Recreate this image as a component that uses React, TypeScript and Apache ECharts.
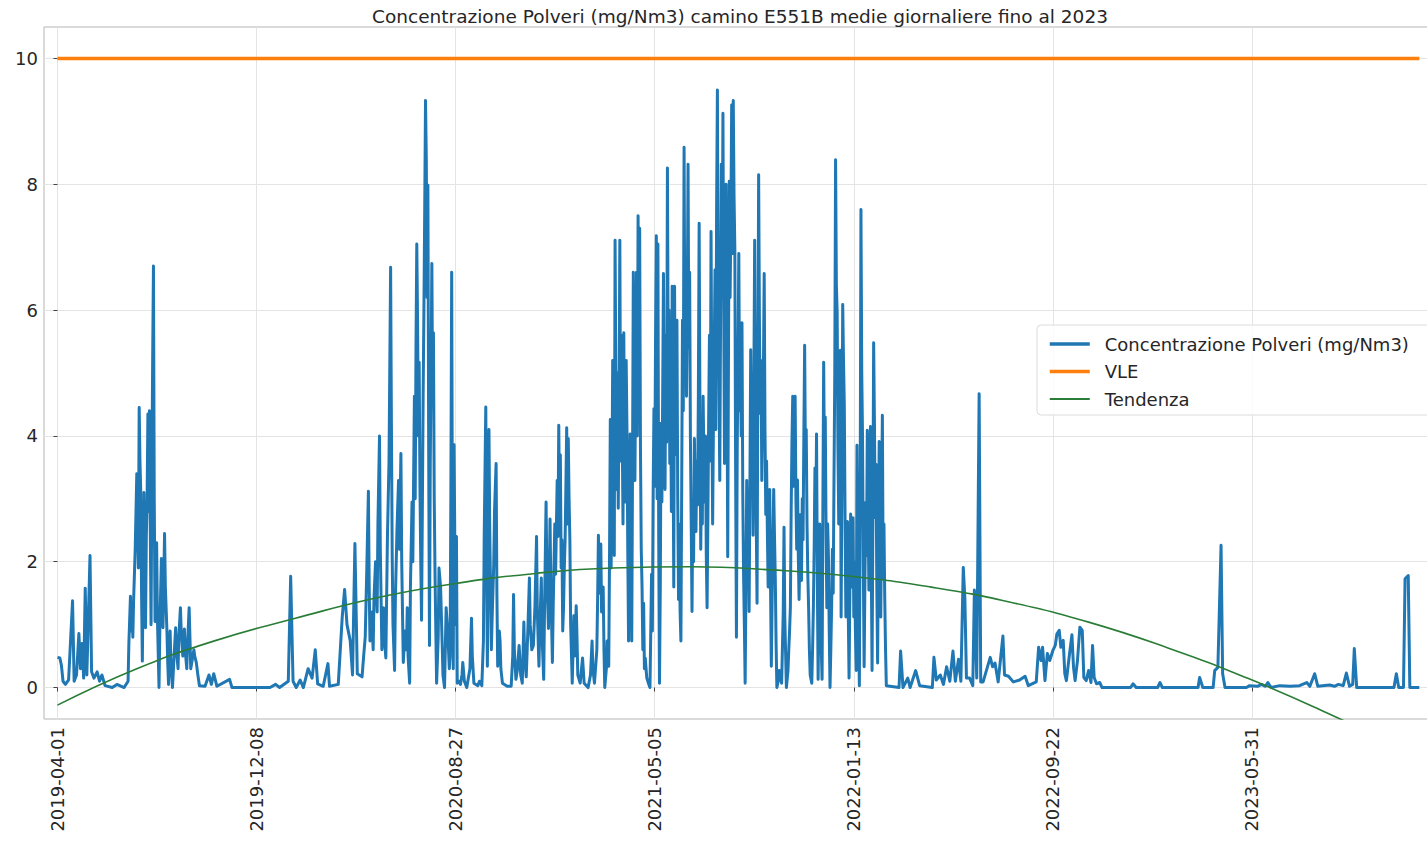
import React, { useEffect, useRef } from "react";
import * as echarts from "echarts";

// x values are row positions of the daily record (first row = 2019-04-01)
const tickRows: number[] = [0, 251, 502, 753, 1004, 1255, 1506];
const tickDates: string[] = ["2019-04-01", "2019-12-08", "2020-08-27", "2021-05-05", "2022-01-13", "2022-09-22", "2023-05-31"];
const yTicks: number[] = [0, 2, 4, 6, 8, 10];
const titleText = "Concentrazione Polveri (mg/Nm3) camino E551B medie giornaliere fino al 2023";
const seriesNames = ["Concentrazione Polveri (mg/Nm3)", "VLE", "Tendenza"];

const vleLimit: [number, number][] = [[0, 10], [1717, 10]];

const trendLine: [number, number][] = [
  [0, -0.28], [100, 0.3], [200, 0.75], [300, 1.1], [400, 1.42], [500, 1.65], [600, 1.81], [700, 1.9],
  [800, 1.92], [900, 1.87], [1000, 1.77], [1100, 1.6], [1200, 1.36], [1300, 1.04], [1400, 0.63],
  [1500, 0.15], [1600, -0.4], [1717, -1.1],
];

const dust2019: [number, number][] = [
  [0, 0.48], [3, 0.47], [5, 0.35], [7, 0.1], [10, 0.05], [14, 0.12], [19, 1.38], [21, 0.1], [24, 0.2],
  [27, 0.86], [29, 0.3], [31, 0.7], [33, 0.15], [35, 1.58], [37, 0.2], [41, 2.1], [43, 0.25], [46, 0.15],
  [50, 0.25], [53, 0.1], [56, 0.2], [60, 0.03], [69, 0], [75, 0.05], [84, 0], [89, 0.1], [90, 0.7],
  [92, 1.45], [93, 0.9], [94, 1.25], [95, 0.8], [96, 1.4], [98, 2.2], [100, 3.4], [101, 2.9], [102, 1.9],
  [103, 4.45], [104, 3.6], [105, 3.1], [106, 1.5], [107, 0.42], [108, 1.8], [109, 3.1], [110, 2.0],
  [111, 0.95], [112, 2.4], [113, 3.0], [114, 4.35], [115, 2.8], [116, 4.4], [117, 2.5], [118, 1.0],
  [119, 3.4], [120, 5.2], [121, 6.7], [122, 3.0], [123, 1.05], [124, 1.6], [125, 2.3], [126, 1.1],
  [128, 0], [129, 0.9], [131, 2.05], [132, 1.4], [133, 0.95], [134, 1.7], [135, 2.45], [136, 1.6],
  [138, 0.9], [139, 0.4], [140, 0.05], [141, 0.5], [142, 0.9], [143, 0.4], [145, 0], [147, 0.5],
  [149, 0.95], [150, 0.6], [152, 0.3], [153, 0.8], [155, 1.27], [156, 0.9], [158, 0.5], [159, 0.7],
  [160, 0.93], [161, 0.6], [163, 0.3], [164, 0.7], [166, 1.27], [167, 0.8], [168, 0.3], [170, 0.45],
  [172, 0.6], [173, 0.5], [175, 0.4], [177, 0.2], [179, 0.03], [186, 0.02], [191, 0.2], [194, 0.05],
  [197, 0.22], [201, 0.02], [217, 0.13], [220, 0], [231, 0], [268, 0],
];

const dust2020: [number, number][] = [
  [275, 0.05], [280, 0], [291, 0.1], [294, 1.77], [297, 0.1], [301, 0], [306, 0.12], [310, 0], [316, 0.3],
  [321, 0.15], [325, 0.6], [328, 0.06], [335, 0.02], [341, 0.38], [343, 0.02], [354, 0.05], [359, 1.12],
  [362, 1.56], [365, 1.0], [369, 0.75], [372, 0.2], [375, 2.29], [378, 0.22], [384, 0.17], [386, 0.5],
  [388, 0.8], [390, 1.9], [392, 3.12], [393, 1.6], [394, 0.74], [396, 1.2], [398, 0.6], [399, 1.4],
  [401, 2.0], [403, 1.2], [404, 2.6], [406, 4.0], [407, 2.2], [409, 0.6], [410, 0.9], [411, 1.27],
  [412, 0.8], [414, 0.47], [416, 2.4], [418, 3.6], [420, 6.68], [421, 4.2], [422, 2.08], [423, 1.0],
  [425, 0.27], [426, 1.4], [428, 2.5], [430, 3.29], [431, 2.2], [433, 3.72], [434, 2.0], [436, 0.4],
  [438, 0.9], [440, 0.6], [441, 1.27], [442, 0.5], [444, 0.07], [445, 1.6], [447, 2.95], [448, 2.0],
  [450, 4.63], [451, 3.0], [452, 5.4], [453, 7.05], [454, 5.8], [455, 4.0], [456, 5.17], [457, 3.2],
  [458, 2.0], [459, 1.07], [460, 2.8], [461, 4.63], [462, 6.0], [463, 7.6], [464, 9.33], [465, 8.4],
  [466, 6.2], [467, 7.99], [468, 3.8], [469, 0.67], [470, 3.6], [471, 5.0], [472, 6.74], [473, 4.5],
  [474, 5.64], [475, 3.0], [476, 1.8], [477, 0.9], [478, 0.07], [480, 0.8], [481, 1.9], [483, 1.6],
  [485, 0.7], [486, 0.2], [488, 0], [490, 1.27], [492, 0.9], [494, 0.3], [495, 0.5], [496, 3.2],
  [497, 6.6], [498, 2.0], [499, 0.3], [500, 3.86], [501, 2.2], [502, 1.0], [503, 2.4], [504, 0.07],
  [506, 0.1], [508, 0.05], [510, 0.2], [511, 0.4], [513, 0.1], [516, 0], [520, 0.3], [522, 1.1],
  [523, 0.5], [525, 0.07], [530, 0.03], [532, 0.1], [535, 0.03], [537, 0.74], [538, 2.4], [540, 4.46],
  [541, 2.0], [542, 0.34], [543, 2.2], [544, 4.1], [545, 2.5], [547, 0.6], [548, 1.1], [550, 1.95],
  [551, 2.8], [553, 3.56], [554, 1.5], [555, 0.34], [557, 0.9], [558, 0.74], [559, 0.3], [561, 0.07],
  [567, 0.02], [572, 0.02], [574, 0.5], [575, 1.48], [576, 0.6], [578, 0.13], [580, 0.3], [582, 0.67],
  [584, 0.2], [586, 0.07], [588, 1.04], [589, 0.5], [591, 0.17], [593, 0.9], [595, 1.74], [596, 1.0],
  [598, 0.6], [600, 0.67], [602, 1.3], [604, 2.4], [605, 1.2], [607, 0.34], [608, 0.9], [610, 1.74],
  [611, 0.8], [613, 0.13], [614, 1.2], [616, 2.95], [617, 1.8], [619, 0.94], [620, 1.7], [621, 2.68],
  [622, 1.6], [624, 0.4], [625, 1.3], [627, 2.6], [628, 1.8], [630, 3.29], [631, 2.4], [632, 4.17],
  [633, 2.8], [634, 3.7], [635, 1.9], [636, 2.35], [637, 0.9], [638, 1.27], [639, 1.9], [640, 2.35],
  [641, 3.2], [642, 4.13], [643, 2.6], [644, 3.96], [645, 3.0], [646, 2.35], [647, 1.0], [649, 0.07],
  [650, 0.6], [651, 1.14], [652, 0.5], [654, 1.3], [655, 0.8], [656, 0.2], [659, 0.07], [662, 0.47],
  [664, 0.07], [669, 0], [672, 0.2], [674, 0.74], [675, 0.3], [677, 0.07], [680, 0.6], [681, 1.4],
  [682, 2.42], [683, 1.5], [685, 2.28], [686, 1.2], [688, 1.6], [689, 0.6], [690, 0], [692, 0.3],
  [693, 0.74], [695, 0.34], [696, 2.1],
];

const dust2021: [number, number][] = [
  [697, 4.26], [698, 1.9], [699, 3.15], [700, 5.2], [701, 4.23], [702, 2.1], [703, 7.11], [704, 4.8],
  [705, 3.15], [706, 5.0], [707, 2.85], [708, 4.5], [709, 7.11], [710, 3.6], [711, 5.6], [712, 4.09],
  [713, 2.6], [714, 5.64], [715, 3.4], [716, 2.95], [717, 5.2], [718, 4.09], [719, 2.2], [720, 0.74],
  [721, 2.8], [722, 4.03], [723, 2.4], [724, 0.74], [725, 3.5], [726, 6.6], [727, 4.6], [728, 3.29],
  [729, 5.1], [730, 6.6], [731, 4.0], [732, 7.5], [733, 5.0], [734, 7.3], [735, 3.8], [736, 2.2],
  [737, 1.6], [738, 0.6], [739, 1.34], [740, 0.3], [741, 0.47], [743, 0.15], [745, 0.07], [747, 0],
  [749, 1.8], [750, 0.9], [751, 3.1], [752, 4.43], [753, 3.2], [754, 5.5], [755, 7.18], [756, 3.0],
  [757, 7.05], [758, 2.4], [759, 0.07], [760, 1.6], [761, 4.2], [762, 2.95], [763, 4.6], [764, 6.58],
  [765, 4.0], [766, 3.15], [767, 5.6], [768, 3.9], [769, 8.26], [770, 5.1], [771, 6.0], [772, 3.56],
  [773, 4.8], [774, 2.8], [775, 6.38], [776, 4.2], [777, 1.6], [778, 6.38], [779, 3.7], [780, 4.6],
  [781, 5.84], [782, 3.0], [783, 1.4], [784, 2.6], [785, 1.2], [786, 0.74], [787, 3.2], [788, 5.84],
  [789, 4.4], [790, 8.59], [791, 5.5], [792, 6.4], [793, 4.63], [794, 6.0], [795, 8.32], [796, 5.4],
  [797, 6.6], [798, 3.96], [799, 2.6], [800, 1.21], [801, 2.9], [802, 2.0], [803, 3.96], [804, 3.1],
  [805, 2.48], [806, 3.6], [807, 2.9], [808, 4.63], [809, 7.38], [810, 4.4], [811, 2.2], [812, 3.4],
  [813, 2.6], [814, 4.63], [815, 3.6], [816, 2.95], [817, 4.0], [818, 2.1], [819, 1.27], [820, 2.7],
  [821, 4.3], [822, 5.6], [823, 3.6], [824, 7.25], [825, 4.5], [826, 2.6], [827, 4.2], [828, 5.3],
  [829, 6.64], [830, 4.1], [831, 7.6], [832, 9.5], [833, 6.2], [834, 5.0], [835, 3.29], [836, 5.9],
  [837, 8.32], [838, 6.5], [839, 9.13], [840, 6.0], [841, 3.56], [842, 6.3], [843, 8.0], [844, 5.6],
  [845, 2.08], [846, 5.4], [847, 8.05], [848, 6.2], [849, 7.4], [850, 9.26], [851, 6.9], [852, 9.33],
  [853, 7.8], [854, 6.98], [855, 3.4], [856, 0.8], [857, 3.8], [858, 5.2], [859, 6.9], [860, 4.4],
  [861, 5.3], [862, 4.0], [863, 5.8], [864, 3.09], [865, 1.8], [866, 1.0], [867, 0.07], [868, 1.6],
  [869, 3.29], [870, 2.2], [871, 3.0], [872, 1.21], [873, 3.2], [874, 5.37], [875, 3.8], [876, 4.4],
  [877, 2.42], [878, 4.9], [879, 7.11], [880, 4.1], [881, 2.6], [882, 1.34], [883, 4.9], [884, 8.15],
  [885, 5.8], [886, 4.36], [887, 5.2], [888, 3.29], [889, 4.6], [890, 5.0], [891, 6.58], [892, 4.1],
  [893, 2.75], [894, 3.6], [895, 2.48], [896, 1.6], [897, 2.4], [898, 3.15], [899, 1.6], [900, 0.34],
  [901, 1.4], [902, 2.3], [903, 3.15], [904, 2.4], [905, 1.74], [906, 0.7], [907, 0], [909, 0.12],
  [910, 0.27], [913, 0.07], [915, 1.2], [916, 2.55], [917, 1.1], [919, 0], [921, 0.27], [922, 0.6],
  [923, 0.9], [924, 1.27], [925, 2.8], [926, 3.9], [927, 4.63], [928, 3.2], [929, 3.9], [930, 4.63],
  [931, 3.0], [932, 2.2], [933, 3.3], [934, 2.1], [935, 1.4], [936, 2.2], [937, 2.75], [938, 1.7],
  [939, 3.0], [940, 2.35], [941, 4.0], [942, 5.44], [943, 3.6], [944, 4.1], [945, 2.6], [946, 1.8],
  [947, 1.27], [948, 0.6], [949, 0.2], [951, 0.07], [952, 0.6], [953, 1.27], [954, 2.2], [955, 3.49],
  [956, 2.6], [957, 4.03], [958, 1.7], [959, 0.13], [960, 1.4], [961, 2.6], [962, 1.5], [963, 0.6],
  [964, 0.13], [965, 2.9], [966, 5.17], [967, 3.4], [968, 4.3], [969, 2.5], [970, 1.27], [971, 2.6],
  [972, 2.08], [973, 0.9], [974, 0], [975, 0.6], [976, 1.27], [977, 2.2], [978, 1.5], [979, 3.29],
  [980, 5.0], [981, 8.39], [982, 6.4], [983, 5.97], [984, 3.8], [985, 2.6], [986, 3.4],
];

const dust2022: [number, number][] = [
  [987, 5.36], [988, 1.12], [989, 3.3], [990, 6.09], [991, 5.2], [992, 4.5], [993, 2.6], [994, 1.12],
  [995, 1.9], [996, 2.64], [997, 1.2], [998, 0.15], [999, 1.5], [1000, 2.76], [1001, 1.9], [1002, 1.6],
  [1003, 2.7], [1004, 1.12], [1005, 2.0], [1006, 0.9], [1007, 0.27], [1008, 3.85], [1009, 2.2],
  [1010, 1.1], [1011, 0.03], [1012, 3.0], [1013, 7.6], [1014, 5.0], [1015, 3.97], [1016, 1.9],
  [1017, 0.33], [1018, 1.7], [1019, 2.94], [1020, 2.1], [1021, 4.09], [1022, 2.9], [1023, 1.55],
  [1024, 3.0], [1025, 4.15], [1026, 2.0], [1027, 0.27], [1028, 2.6], [1029, 5.48], [1030, 4.2],
  [1031, 2.7], [1032, 3.55], [1033, 1.6], [1034, 0.39], [1035, 2.3], [1036, 3.91], [1037, 2.5],
  [1038, 1.12], [1039, 2.9], [1040, 4.33], [1041, 1.73], [1042, 2.6], [1043, 1.42], [1044, 0.6],
  [1045, 0.03], [1061, 0], [1063, 0.58], [1066, 0], [1072, 0.15], [1075, 0], [1082, 0.27], [1087, 0.03],
  [1103, 0], [1105, 0.48], [1108, 0.12], [1113, 0.2], [1117, 0.05], [1121, 0.33], [1125, 0.1],
  [1129, 0.58], [1132, 0.1], [1136, 0.45], [1139, 0.1], [1142, 1.91], [1144, 1.42], [1146, 0.15],
  [1150, 0.15], [1154, 0.03], [1156, 1.55], [1159, 0.15], [1162, 4.67], [1164, 0.09], [1167, 0.09],
  [1176, 0.48], [1179, 0.33], [1182, 0.39], [1186, 0.09], [1192, 0.82], [1194, 0.2], [1199, 0.18],
  [1205, 0.09], [1213, 0.12], [1220, 0.18], [1224, 0.03], [1234, 0.09], [1237, 0.64], [1240, 0.43],
  [1242, 0.64], [1245, 0.11], [1248, 0.54], [1251, 0.43], [1255, 0.59], [1258, 0.67], [1260, 0.85],
  [1263, 0.91], [1265, 0.64], [1268, 0.75], [1270, 0.22], [1272, 0.11], [1276, 0.54], [1279, 0.84],
  [1281, 0.32], [1283, 0.11], [1286, 0.43], [1289, 0.96], [1292, 0.91], [1294, 0.16], [1297, 0.11],
  [1300, 0.27], [1303, 0.08], [1305, 0.67], [1307, 0.16], [1310, 0.06], [1314, 0.08], [1317, 0],
];

const dust2023: [number, number][] = [
  [1353, 0], [1356, 0.06], [1360, 0], [1387, 0], [1390, 0.08], [1393, 0], [1438, 0], [1440, 0.16],
  [1444, 0], [1457, 0], [1459, 0.27], [1463, 0.32], [1467, 2.26], [1469, 0.22], [1472, 0], [1499, 0],
  [1503, 0.03], [1513, 0.02], [1518, 0.05], [1523, 0.02], [1526, 0.08], [1530, 0], [1541, 0.03],
  [1554, 0.02], [1566, 0.03], [1575, 0.08], [1579, 0.02], [1585, 0.22], [1589, 0.02], [1604, 0.04],
  [1610, 0.02], [1615, 0.05], [1621, 0.03], [1625, 0.23], [1629, 0.02], [1633, 0.05], [1635, 0.62],
  [1638, 0], [1685, 0], [1688, 0.22], [1691, 0], [1697, 0], [1699, 1.73], [1703, 1.78], [1705, 0],
  [1717, 0],
];

const dustAll: [number, number][] = [...dust2019, ...dust2020, ...dust2021, ...dust2022, ...dust2023];

const FONT = "DejaVu Sans";
const TXT = "#262626";
const BLUE = "#1f77b4";
const ORANGE = "#ff7f0e";
const GREEN = "#2a7d36";

function labelFor(v: number): string {
  const i = tickRows.indexOf(Math.round(v));
  return i >= 0 ? tickDates[i] : "";
}

export default function App() {
  const ref = useRef<HTMLDivElement>(null);
  useEffect(() => {
    if (!ref.current) return;
    const chart = echarts.init(ref.current, undefined, { renderer: "svg" });
    chart.setOption({
      animation: false,
      backgroundColor: "#ffffff",
      textStyle: { fontFamily: FONT },
      grid: {
        left: 44, right: 9, top: 27, bottom: 124,
        show: true, borderColor: "#b5b5b5", borderWidth: 1, backgroundColor: "transparent",
      },
      graphic: [
        {
          type: "text", x: 740, y: 16, z: 10,
          style: { text: titleText, fill: TXT, fontSize: 18.5, fontFamily: FONT, align: "center", verticalAlign: "middle" },
        },
      ],
      legend: {
        orient: "vertical", left: 1037, top: 325,
        padding: [9, 40, 6, 11],
        backgroundColor: "rgba(255,255,255,0.85)", borderColor: "#dcdcdc", borderWidth: 1, borderRadius: 4,
        itemWidth: 40, itemHeight: 14, itemGap: 7.5,
        itemStyle: { opacity: 0 },
        textStyle: { fontSize: 18, color: TXT, fontFamily: FONT, lineHeight: 20, padding: [0, 0, 0, 10] },
        data: [
          { name: seriesNames[0], lineStyle: { width: 3.5, color: BLUE } },
          { name: seriesNames[1], lineStyle: { width: 3.5, color: ORANGE } },
          { name: seriesNames[2], lineStyle: { width: 2, color: GREEN } },
        ],
      },
      xAxis: {
        type: "value", min: -17, max: 1738,
        axisLine: { show: false },
        axisTick: { show: true, length: 4, customValues: tickRows, lineStyle: { color: "#444" } },
        axisLabel: { customValues: tickRows, rotate: 90, margin: 8, fontSize: 18, color: TXT, fontFamily: FONT, formatter: (v: number) => labelFor(v) },
        splitLine: { show: true, lineStyle: { color: "#e4e4e4", width: 1 } },
      },
      yAxis: {
        type: "value", min: -0.5, max: 10.5,
        axisLine: { show: false },
        axisTick: { show: true, length: 4, customValues: yTicks, lineStyle: { color: "#444" } },
        axisLabel: { customValues: yTicks, margin: 6, fontSize: 18, color: TXT, fontFamily: FONT },
        splitLine: { show: true, lineStyle: { color: "#e4e4e4", width: 1 } },
      },
      series: [
        {
          name: seriesNames[0], type: "line", data: dustAll, symbol: "none", showSymbol: false, z: 2,
          lineStyle: { color: BLUE, width: 3, join: "round" }, itemStyle: { color: BLUE },
        },
        {
          name: seriesNames[1], type: "line", data: vleLimit, symbol: "none", showSymbol: false, z: 3,
          lineStyle: { color: ORANGE, width: 3.5 }, itemStyle: { color: ORANGE },
        },
        {
          name: seriesNames[2], type: "line", data: trendLine, symbol: "none", showSymbol: false, smooth: true, z: 4,
          lineStyle: { color: GREEN, width: 1.6 }, itemStyle: { color: GREEN },
        },
      ],
    });
    return () => chart.dispose();
  }, []);
  return (
    <div style={{ position: "fixed", left: 0, top: 0, width: 1427, height: 843, overflow: "hidden", background: "#fff" }}>
      <div ref={ref} style={{ width: 1445, height: 843 }} />
    </div>
  );
}
